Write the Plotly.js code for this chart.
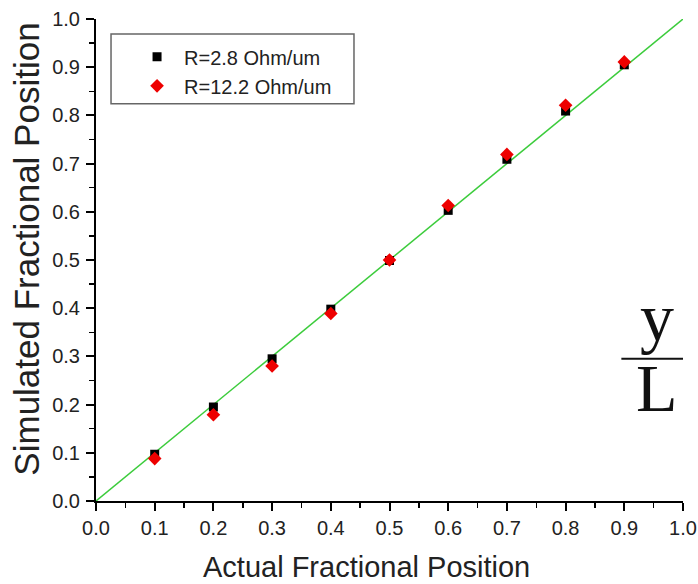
<!DOCTYPE html>
<html>
<head>
<meta charset="utf-8">
<script src="https://cdn.plot.ly/plotly-3.0.1.min.js"></script>
<style>html,body{margin:0;padding:0;background:#fff;}#chart{width:698px;height:584px;}</style>
</head>
<body>
<div id="chart"></div>
<script>
const actualPos = [0.1, 0.2, 0.3, 0.4, 0.5, 0.6, 0.7, 0.8, 0.9];
const simR28 = [0.097, 0.195, 0.295, 0.398, 0.499, 0.603, 0.709, 0.809, 0.905];
const simR122 = [0.088, 0.179, 0.280, 0.389, 0.500, 0.613, 0.719, 0.821, 0.911];
const idealX = [0, 1];
const idealY = [0, 1];
const seriesNames = ["R=2.8 Ohm/um", "R=12.2 Ohm/um"];
const tickVals = [0, 0.1, 0.2, 0.3, 0.4, 0.5, 0.6, 0.7, 0.8, 0.9, 1.0];
const tickText = ["0.0", "0.1", "0.2", "0.3", "0.4", "0.5", "0.6", "0.7", "0.8", "0.9", "1.0"];
const xTitle = "Actual Fractional Position";
const yTitle = "Simulated Fractional Position";

const font = "Liberation Sans, Arial, sans-serif";
const serif = "Liberation Serif, Times New Roman, serif";

const traces = [
  {x: idealX, y: idealY, mode: "lines", line: {color: "#3ccc3c", width: 1.5}, showlegend: false, hoverinfo: "skip"},
  {x: actualPos, y: simR28, mode: "markers", name: seriesNames[0],
   marker: {symbol: "square", size: 9, color: "#000"}},
  {x: actualPos, y: simR122, mode: "markers", name: seriesNames[1],
   marker: {symbol: "diamond", size: 10.5, color: "#ee0000"}}
];

function axis(extra) {
  return Object.assign({
    range: [0, 1], showgrid: false, zeroline: false, showline: true, linecolor: "#000", linewidth: 2,
    tickvals: tickVals, ticktext: tickText, ticks: "outside", ticklen: 8, tickwidth: 2, tickcolor: "#000",
    tickfont: {family: font, size: 20, color: "#222"},
    minor: {dtick: 0.05, ticks: "outside", ticklen: 5, tickwidth: 1.5, tickcolor: "#000", showgrid: false}
  }, extra);
}
const innerMinor = {dtick: 0.05, ticks: "inside", ticklen: 5, tickwidth: 1.5, tickcolor: "#000", showgrid: false};

const layout = {
  width: 698, height: 584,
  margin: {l: 96, r: 15, t: 19, b: 83},
  paper_bgcolor: "#fff", plot_bgcolor: "#fff",
  font: {family: font, color: "#222"},
  xaxis: axis({ticklabelstandoff: 0}),
  yaxis: axis({ticklabelstandoff: 2}),
  xaxis2: axis({overlaying: "x", side: "top", anchor: "y", showticklabels: false, ticks: "inside", minor: innerMinor}),
  yaxis2: axis({overlaying: "y", side: "right", anchor: "x", showticklabels: false, ticks: "inside", minor: innerMinor}),
  showlegend: true,
  legend: {
    x: 0.058, y: 0.962, xanchor: "left", yanchor: "top",
    bgcolor: "rgba(0,0,0,0)", borderwidth: 0,
    font: {family: font, size: 20, color: "#222"},
    itemwidth: 44, tracegroupgap: 0
  },
  shapes: [
    {type: "rect", xref: "paper", yref: "paper", x0: 0.0256, x1: 0.4395, y0: 0.824, y1: 0.969,
     line: {color: "#666", width: 1.5}, fillcolor: "rgba(0,0,0,0)"},
    {type: "line", xref: "paper", yref: "paper", x0: 0.895, x1: 1.0, y0: 0.295, y1: 0.295,
     line: {color: "#111", width: 2}}
  ],
  annotations: [
    {text: xTitle, xref: "paper", yref: "paper", x: 0.46, y: -0.137, xanchor: "center", yanchor: "middle",
     showarrow: false, font: {family: font, size: 29, color: "#222"}},
    {text: yTitle, xref: "paper", yref: "paper", x: -0.118, y: 0.523, xanchor: "center", yanchor: "middle",
     textangle: -90, showarrow: false, font: {family: font, size: 35, color: "#222"}},
    {text: "y", xref: "paper", yref: "paper", x: 0.955, y: 0.297, xanchor: "center", yanchor: "bottom",
     showarrow: false, font: {family: serif, size: 68, color: "#111"}},
    {text: "L", xref: "paper", yref: "paper", x: 0.956, y: 0.317, xanchor: "center", yanchor: "top",
     showarrow: false, font: {family: serif, size: 68, color: "#111"}}
  ]
};

Plotly.newPlot("chart", traces, layout, {displayModeBar: false, staticPlot: true});
</script>
</body>
</html>
